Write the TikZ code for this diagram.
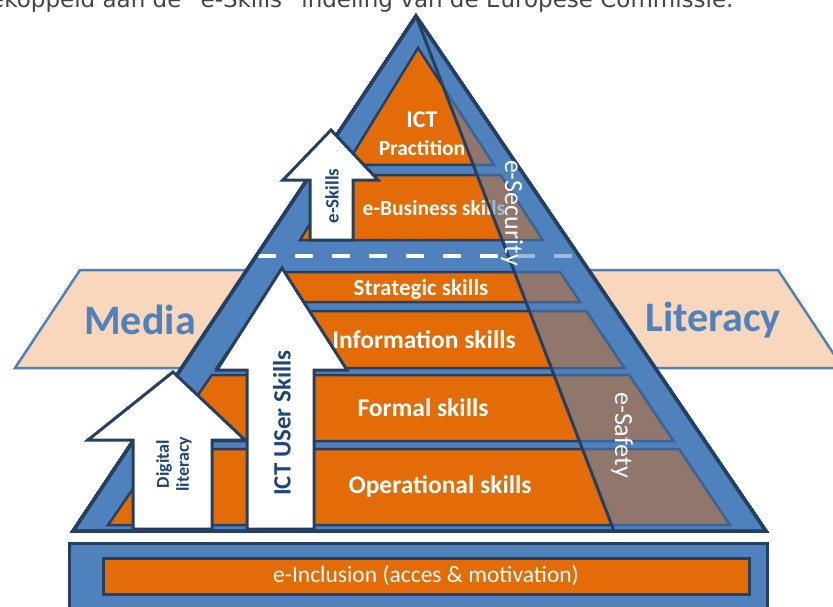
\documentclass[tikz,border=0pt]{standalone}
\usepackage{fontspec}
\setmainfont{Carlito}
\newfontfamily\captionfont{DejaVu Sans}
\usetikzlibrary{calc}

\definecolor{pyrblue}{HTML}{4F81BD}
\definecolor{pyrdark}{HTML}{243F60}
\definecolor{pyrorange}{HTML}{E36C09}
\definecolor{mediapeach}{HTML}{F9D7BD}
\definecolor{arrowblue}{HTML}{1F457A}
\definecolor{captiongrey}{HTML}{444444}

\tikzset{
  layer/.style={draw=pyrdark, line width=2.5pt, fill=pyrorange},
  layertext/.style={text=white, font=\bfseries\fontsize{25.5}{27}\selectfont, align=center},
  uparrow/.style={draw=pyrdark, line width=3pt, fill=white},
  arrowtext/.style={text=arrowblue, font=\bfseries\fontsize{18}{20}\selectfont, rotate=90, align=center},
  safetext/.style={text=white, font=\fontsize{26}{28}\selectfont, rotate=-90},
  literacytext/.style={text=pyrblue, font=\bfseries\fontsize{42}{44}\selectfont}
}

\begin{document}
\begin{tikzpicture}[x=1pt, y=-1pt]
  \useasboundingbox (0,0) rectangle (833,606);

  \node[anchor=base east, text=captiongrey, font=\captionfont\fontsize{23}{26}\selectfont] (caption) at (737,7) {gekoppeld aan de “e-Skills” indeling van de Europese Commissie.};

  % media literacy band behind the pyramid
  \draw[pyrblue, line width=2.5pt, fill=mediapeach] (80,270) -- (778,270) -- (843,368) -- (15,368) -- cycle;
  \node[literacytext] (media)    at (140,320) {Media};
  \node[literacytext] (literacy) at (713,320) {Literacy};

  % pyramid
  \coordinate (top)   at (416,16);
  \coordinate (left)  at (73,531);
  \coordinate (right) at (766,531);
  \draw[pyrdark, line width=3.5pt, fill=pyrblue] (top) -- (left) -- (right) -- cycle;

  % e-skills part
  \coordinate (utop)   at (418,48);
  \coordinate (uleft)  at (125,525);
  \coordinate (uright) at (728,525);
  \draw[layer] (utop) -- ($(utop)!{117/477}!(uleft)$) -- ($(utop)!{117/477}!(uright)$) -- cycle;
  \draw[layer] ($(utop)!{127/477}!(uleft)$) -- ($(utop)!{192/477}!(uleft)$)
    -- ($(utop)!{192/477}!(uright)$) -- ($(utop)!{127/477}!(uright)$) -- cycle;

  % user skills part
  \coordinate (ltl) at (283,272);
  \coordinate (lbl) at (108,525);
  \coordinate (ltr) at (560,272);
  \coordinate (lbr) at (730,525);
  \foreach \ytop/\ybot in {272/302, 311/368, 375/441, 449/525} {
    \draw[layer] ($(ltl)!{(\ytop-272)/253}!(lbl)$) -- ($(ltl)!{(\ybot-272)/253}!(lbl)$)
      -- ($(ltr)!{(\ybot-272)/253}!(lbr)$) -- ($(ltr)!{(\ytop-272)/253}!(lbr)$) -- cycle;
  }

  \node[layertext, font=\bfseries\fontsize{24}{26}\selectfont] (ict) at (422,120) {ICT};
  \node[layertext, font=\bfseries\fontsize{21.5}{23}\selectfont] (practition) at (422,148) {Practition};
  \node[layertext, font=\bfseries\fontsize{21.5}{23}\selectfont] (business)  at (434,208) {e-Business skills};
  \node[layertext, font=\bfseries\fontsize{23}{25}\selectfont] (strategic) at (421,289) {Strategic skills};
  \node[layertext] (information) at (424,340) {Information skills};
  \node[layertext] (formal)      at (423,408) {Formal skills};
  \node[layertext] (operational) at (440,487) {Operational skills};

  % split between e-skills and user skills
  \coordinate (dashl) at (258,256);
  \coordinate (dashr) at (578,256);
  \draw[white, line width=4.5pt, dash pattern=on 18pt off 19pt] (dashl) -- (dashr);

  % e-security / e-safety band
  \coordinate (sbot) at (614,531);
  \fill[pyrblue, opacity=0.55] (top) -- (sbot) -- (right) -- cycle;
  \draw[pyrdark, line width=3pt] (top) -- (sbot);
  \draw[pyrdark, line width=3.5pt] (top) -- (left) -- (right) -- cycle;
  \node[safetext] (security) at (512,213) {e-Security};
  \node[safetext] (safety)   at (622,435) {e-Safety};

  % arrows
  \draw[uparrow] (133,529) -- (133,440) -- (88,440) -- (173,372) -- (245,440) -- (212,440) -- (212,529) -- cycle;
  \draw[uparrow] (247,529) -- (247,370) -- (217,370) -- (282,268) -- (347,370) -- (314,370) -- (314,529) -- cycle;
  \draw[uparrow] (310,240) -- (310,180) -- (283,180) -- (331,130) -- (378,180) -- (353,180) -- (353,240) -- cycle;
  \node[arrowtext] (digital) at (174,464) {Digital\\literacy};
  \node[arrowtext, font=\bfseries\fontsize{25}{27}\selectfont] (usersk) at (282,423) {ICT USer Skills};
  \node[arrowtext, font=\bfseries\fontsize{19}{21}\selectfont] (eskills) at (332,196) {e-Skills};

  % base
  \draw[pyrdark, line width=3pt, fill=pyrblue] (69,543) rectangle (767,625);
  \node[draw=pyrdark, line width=3pt, fill=pyrorange, minimum width=646pt, minimum height=36pt,
        text=white, font=\fontsize{23.5}{25}\selectfont] (inclusion) at (426,576) {e-Inclusion (acces \& motivation)};
\end{tikzpicture}
\end{document}
